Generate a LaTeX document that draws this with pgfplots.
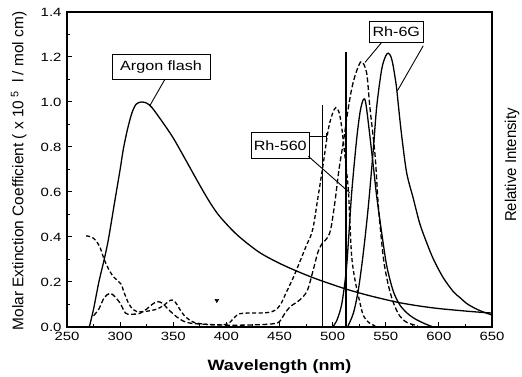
\documentclass[border=0pt]{standalone}
\usepackage{fontspec}
\setmainfont{Liberation Sans}
\usepackage{graphicx}
\usepackage{pgfplots}
\usepackage{pgfplotstable}
\pgfplotsset{compat=1.18}

\pgfplotstableread{
x y
271 0
275 0.08
280 0.2
285 0.3
289 0.39
295 0.56
300 0.70
303 0.79
307 0.88
311 0.95
315 0.99
320 1.0
325 0.995
330 0.975
340 0.91
350 0.84
362 0.74
375 0.63
385 0.55
394 0.49
410 0.41
430 0.335
447 0.29
463 0.255
480 0.222
494 0.198
513 0.168
530 0.145
547 0.125
563 0.108
582 0.093
600 0.082
620 0.073
635 0.067
650 0.062
}\argon

\pgfplotstableread{
x y
268 0.405
273 0.40
277 0.385
281 0.355
285 0.30
290 0.25
294 0.222
298 0.205
301 0.19
304 0.15
308 0.105
312 0.078
316 0.068
325 0.07
335 0.08
342 0.10
346 0.115
349 0.12
352 0.11
356 0.08
360 0.053
365 0.032
370 0.02
380 0.012
395 0.01
402 0.015
407 0.04
412 0.058
420 0.062
430 0.062
440 0.065
446 0.075
451 0.10
456 0.15
463 0.22
470 0.30
476 0.37
479 0.40
482 0.45
486 0.57
491 0.72
496 0.88
500 0.95
503 0.975
506 0.955
508.5 0.89
511.6 0.76
514.8 0.61
516.4 0.45
518 0.31
521 0.21
525.8 0.106
529 0.05
534 0.02
540 0.005
}\rhfivesixabs

\pgfplotstableread{
x y
275 0.05
280 0.08
285 0.13
290.5 0.15
295 0.135
300 0.106
305 0.062
310 0.057
318 0.06
325 0.08
330 0.10
335 0.113
340 0.105
345 0.08
353 0.046
360 0.025
370 0.015
400 0.008
430 0.01
445 0.015
450 0.024
455 0.06
460 0.09
469 0.12
476 0.16
481 0.24
486 0.33
490 0.37
494 0.39
498 0.43
502 0.55
506 0.70
510 0.82
514 0.95
518 1.06
522 1.13
527 1.18
532 1.13
535 0.98
540 0.76
543 0.54
547.7 0.31
552 0.195
557 0.11
563 0.05
570 0.02
580 0.005
}\rhsixgabs

\pgfplotstableread{
x y
500 0
504 0.03
508.5 0.10
512.6 0.24
515 0.39
518 0.60
522.6 0.834
526 0.96
529 1.012
531 1.0
533.6 0.908
538.3 0.715
541.5 0.58
546.2 0.418
551 0.27
557 0.16
563 0.10
570 0.062
578 0.035
588 0.012
595 0
}\rhfivesixem

\pgfplotstableread{
x y
514 0
519.5 0.061
524.2 0.165
528.9 0.33
533.6 0.536
538.3 0.79
541.5 0.98
546.2 1.146
550 1.205
552.5 1.217
555 1.20
557 1.16
560 1.07
562 0.98
565 0.85
569.7 0.685
576 0.57
582 0.46
588.5 0.375
595 0.30
604 0.22
613.6 0.157
620 0.13
626 0.105
632 0.088
640 0.07
650 0.053
}\rhsixgem

\begin{document}
\begin{tikzpicture}
\begin{axis}[
  scale only axis, width=425bp, height=315bp,
  xmin=250, xmax=650, ymin=0, ymax=1.4,
  xtick={250,300,350,400,450,500,550,600,650},
  ytick={0,0.2,0.4,0.6,0.8,1.0,1.2,1.4},
  minor x tick num=1, minor y tick num=1,
  xtick pos=left, ytick pos=left,
  tick align=inside,
  major tick length=5bp, minor tick length=3bp,
  axis line style={line width=1.4bp},
  every tick/.style={black, line width=1bp},
  clip=false,
  ticklabel style={font=\fontsize{12}{12}\selectfont},
  xticklabel={\scalebox{1.25}[1]{\pgfmathprintnumber[assume math mode=true]{\tick}}},
  yticklabel={\scalebox{1.25}[1]{\pgfmathprintnumber[assume math mode=true,fixed,fixed zerofill,precision=1]{\tick}}},
  xticklabel style={yshift=-2bp},
  yticklabel style={xshift=-2bp},
]
\coordinate (bl) at (rel axis cs:0,0);
\coordinate (tr) at (rel axis cs:1,1);
\addplot[black, line width=1.3bp, smooth, tension=0.5] table {\argon};
\addplot[black, line width=1.3bp, smooth, tension=0.5, dash pattern=on 4bp off 2.5bp] table {\rhfivesixabs};
\addplot[black, line width=1.3bp, smooth, tension=0.5, dash pattern=on 5bp off 2.5bp] table {\rhsixgabs};
\addplot[black, line width=1.3bp, smooth, tension=0.5] table {\rhfivesixem};
\addplot[black, line width=1.3bp, smooth, tension=0.5] table {\rhsixgem};
\addplot[black, line width=1.2bp] coordinates {(490.6,0) (490.6,0.987)};
\addplot[black, line width=1.2bp] coordinates {(512.6,0) (512.6,1.22)};
\addplot[only marks, mark=triangle*, mark size=2.2bp, mark options={rotate=180, fill=black}] coordinates {(391,0.118)};

\node[draw, line width=1bp, fill=white, minimum width=98bp, minimum height=25bp, inner sep=0pt, font=\fontsize{13.5}{14}\selectfont] at (axis cs:338.5,1.157) {\scalebox{1.2}[1]{Argon flash}};
\node[draw, line width=1bp, fill=white, minimum width=54bp, minimum height=21bp, inner sep=0pt, font=\fontsize{13.5}{14}\selectfont] at (axis cs:559.9,1.311) {\scalebox{1.2}[1]{Rh-6G}};
\node[draw, line width=1bp, fill=white, minimum width=58bp, minimum height=26bp, inner sep=0pt, font=\fontsize{13.5}{14}\selectfont] at (axis cs:450.7,0.806) {\scalebox{1.2}[1]{Rh-560}};

\draw[line width=0.9bp] (axis cs:342.2,1.101) -- (axis cs:328.1,0.985);
\draw[line width=0.9bp] (axis cs:546.2,1.265) -- (axis cs:530.5,1.176);
\draw[line width=0.9bp] (axis cs:585.3,1.25) -- (axis cs:561,1.05);
\draw[line width=0.9bp] (axis cs:478,0.846) -- (axis cs:494.4,0.846);
\draw[line width=0.9bp] (axis cs:494.4,0.83) -- (axis cs:494.4,0.862);
\draw[line width=0.9bp] (axis cs:477.1,0.759) -- (axis cs:516,0.597);
\end{axis}
\node[anchor=base, font=\fontsize{15}{15}\selectfont\bfseries] at ([xshift=212.5bp, yshift=-43bp]bl) {\scalebox{1.2}[1]{Wavelength (nm)}};
\node[rotate=90, anchor=base, font=\fontsize{15.5}{16}\selectfont] at ([xshift=-43.5bp, yshift=156bp]bl) {Molar Extinction Coefficient ( x 10\,\textsuperscript{5}\ \ l / mol cm)};
\node[rotate=90, anchor=base, font=\fontsize{15}{16}\selectfont] at ([xshift=24bp, yshift=-153bp]tr) {\scalebox{1}[1.05]{Relative Intensity}};
\pgfresetboundingbox
\path[use as bounding box] ([xshift=-67bp,yshift=-50bp]bl) rectangle ([xshift=30bp,yshift=12bp]tr);
\end{tikzpicture}
\end{document}
